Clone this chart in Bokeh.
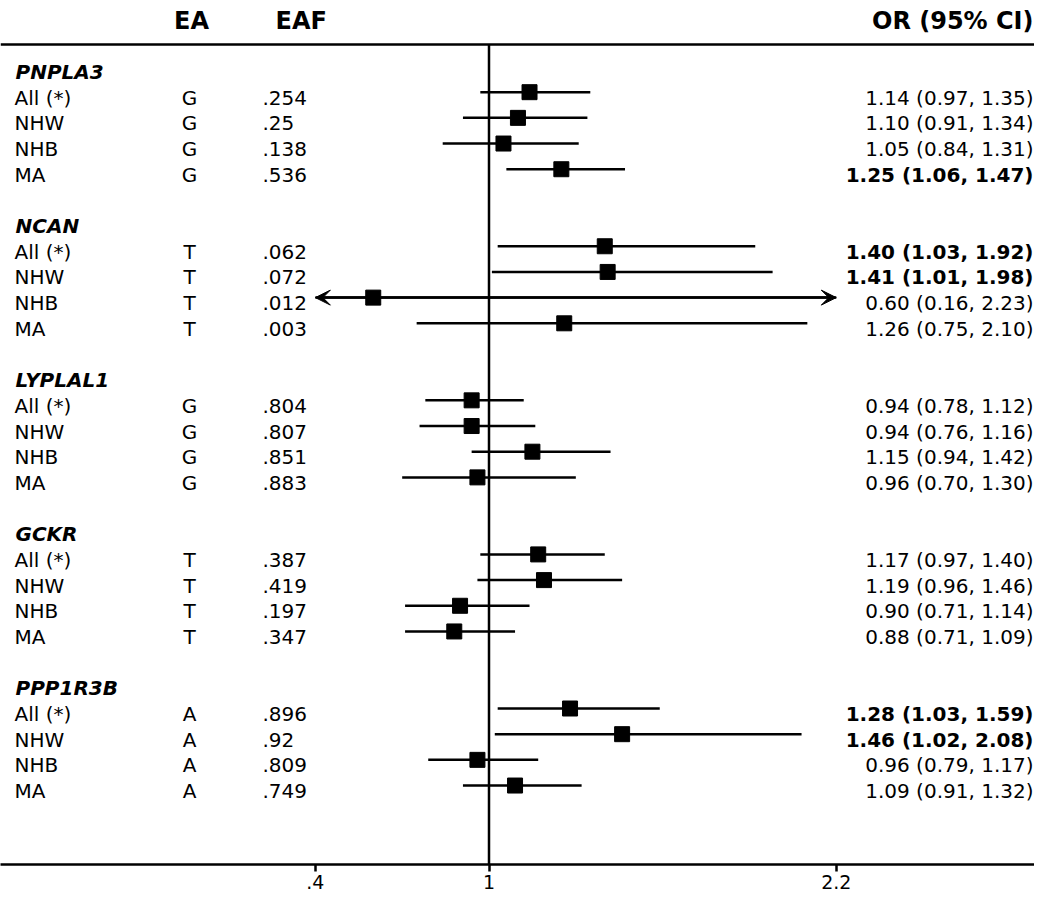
from bokeh.plotting import figure
from bokeh.models import Range1d, Span, Arrow, VeeHead, FixedTicker, ColumnDataSource
from bokeh.core.properties import value
from bokeh.embed import file_html
from bokeh.resources import INLINE

# ---------------- data ----------------
genes = ["PNPLA3", "NCAN", "LYPLAL1", "GCKR", "PPP1R3B"]
gene_effect_allele = ["G", "T", "G", "T", "A"]
populations = ["All (*)", "NHW", "NHB", "MA"]

eaf_pnpla3 = [".254", ".25", ".138", ".536"]
eaf_ncan = [".062", ".072", ".012", ".003"]
eaf_lyplal1 = [".804", ".807", ".851", ".883"]
eaf_gckr = [".387", ".419", ".197", ".347"]
eaf_ppp1r3b = [".896", ".92", ".809", ".749"]

or_pnpla3 = [1.14, 1.10, 1.05, 1.25]
lo_pnpla3 = [0.97, 0.91, 0.84, 1.06]
hi_pnpla3 = [1.35, 1.34, 1.31, 1.47]

or_ncan = [1.40, 1.41, 0.60, 1.26]
lo_ncan = [1.03, 1.01, 0.16, 0.75]
hi_ncan = [1.92, 1.98, 2.23, 2.10]

or_lyplal1 = [0.94, 0.94, 1.15, 0.96]
lo_lyplal1 = [0.78, 0.76, 0.94, 0.70]
hi_lyplal1 = [1.12, 1.16, 1.42, 1.30]

or_gckr = [1.17, 1.19, 0.90, 0.88]
lo_gckr = [0.97, 0.96, 0.71, 0.71]
hi_gckr = [1.40, 1.46, 1.14, 1.09]

or_ppp1r3b = [1.28, 1.46, 0.96, 1.09]
lo_ppp1r3b = [1.03, 1.02, 0.79, 0.91]
hi_ppp1r3b = [1.59, 2.08, 1.17, 1.32]

axis_ticks = [0.4, 1.0, 2.2]
axis_tick_labels = [".4", "1", "2.2"]
header_labels = ["EA", "EAF", "OR (95% CI)"]

eaf_all = [eaf_pnpla3, eaf_ncan, eaf_lyplal1, eaf_gckr, eaf_ppp1r3b]
or_all = [or_pnpla3, or_ncan, or_lyplal1, or_gckr, or_ppp1r3b]
lo_all = [lo_pnpla3, lo_ncan, lo_lyplal1, lo_gckr, lo_ppp1r3b]
hi_all = [hi_pnpla3, hi_ncan, hi_lyplal1, hi_gckr, hi_ppp1r3b]

# ---------------- layout ----------------
W, H = 1034, 900
FRAME_H = 864
X_ONE_PX = 488.5
PX_PER_UNIT = 289.4


def xd(px):
    return 1 + (px - X_ONE_PX) / PX_PER_UNIT


ROW0 = 66.0
ROW_STEP = 25.68
TXT_OFF = 5.5
HEAD_Y = 20
HEAD_LINE_Y = 44

FONT = "DejaVu Sans"
FS = "20px"

p = figure(width=W, height=H, output_backend="svg", toolbar_location=None,
           x_range=Range1d(xd(0), xd(W)), y_range=Range1d(FRAME_H, 0),
           y_axis_location=None, min_border_left=0, min_border_right=0,
           min_border_top=0, min_border_bottom=H - FRAME_H)
p.xgrid.visible = False
p.ygrid.visible = False
p.outline_line_color = None
p.background_fill_color = "white"
p.border_fill_color = "white"

ax = p.xaxis[0]
ax.ticker = FixedTicker(ticks=axis_ticks)
ax.major_label_overrides = {t: l for t, l in zip(axis_ticks, axis_tick_labels)}
ax.axis_line_width = 2.5
ax.axis_line_color = "black"
ax.major_tick_line_width = 2.5
ax.major_tick_line_color = "black"
ax.major_tick_in = 0
ax.major_tick_out = 7
ax.minor_tick_line_color = None
ax.major_label_text_font = FONT
ax.major_label_text_font_size = "19px"
ax.major_label_text_color = "black"
ax.major_label_standoff = 3

clip_lo, clip_hi = axis_ticks[0], axis_ticks[-1]

# rows
head_x, head_y, head_t = [], [], []
lab, ea, eaf_t, ort, style = [], [], [], [], []
ty, ly, est, lo_c, hi_c = [], [], [], [], []
arrows = []
slot = 0
for g, gene in enumerate(genes):
    yl = ROW0 + ROW_STEP * slot
    head_x.append(xd(15))
    head_y.append(yl + TXT_OFF)
    head_t.append(gene)
    slot += 1
    for k, pop in enumerate(populations):
        yl = ROW0 + ROW_STEP * slot
        o, lo, hi = or_all[g][k], lo_all[g][k], hi_all[g][k]
        lab.append(pop)
        ea.append(gene_effect_allele[g])
        eaf_t.append(eaf_all[g][k])
        ort.append(f"{o:.2f} ({lo:.2f}, {hi:.2f})")
        style.append("bold" if (lo > 1 or hi < 1) else "normal")
        ty.append(yl + TXT_OFF)
        ly.append(yl)
        est.append(o)
        lo_c.append(max(lo, clip_lo))
        hi_c.append(min(hi, clip_hi))
        if lo < clip_lo:
            arrows.append((o, clip_lo, yl))
        if hi > clip_hi:
            arrows.append((o, clip_hi, yl))
        slot += 1
    slot += 1

src = ColumnDataSource(dict(lab=lab, ea=ea, eaf=eaf_t, ort=ort, style=style,
                            ty=ty, ly=ly, est=est, lo=lo_c, hi=hi_c))

# header
p.text(x=[xd(191)], y=[HEAD_Y], text=[header_labels[0]], text_font=value(FONT),
       text_font_size="24px", text_font_style="bold", text_align="center",
       text_baseline="middle", text_color="black")
p.text(x=[xd(275)], y=[HEAD_Y], text=[header_labels[1]], text_font=value(FONT),
       text_font_size="24px", text_font_style="bold", text_align="left",
       text_baseline="middle", text_color="black")
p.text(x=[xd(1033)], y=[HEAD_Y], text=[header_labels[2]], text_font=value(FONT),
       text_font_size="24px", text_font_style="bold", text_align="right",
       text_baseline="middle", text_color="black")
p.add_layout(Span(location=HEAD_LINE_Y, dimension="width", line_color="black", line_width=2.5))

# reference line at OR = 1
p.segment(x0=[1.0], y0=[HEAD_LINE_Y], x1=[1.0], y1=[FRAME_H], line_color="black", line_width=2.5)

# gene headings
p.text(x=head_x, y=head_y, text=head_t, text_font=value(FONT), text_font_size=FS,
       text_font_style="bold italic", text_baseline="middle", text_color="black")

# row texts
p.text(x=xd(14), y="ty", text="lab", source=src, text_font=value(FONT), text_font_size=FS,
       text_baseline="middle", text_color="black")
p.text(x=xd(189), y="ty", text="ea", source=src, text_font=value(FONT), text_font_size=FS,
       text_baseline="middle", text_align="center", text_color="black")
p.text(x=xd(262), y="ty", text="eaf", source=src, text_font=value(FONT), text_font_size=FS,
       text_baseline="middle", text_align="left", text_color="black")
p.text(x=xd(1033), y="ty", text="ort", source=src, text_font=value(FONT), text_font_size=FS,
       text_font_style="style", text_baseline="middle", text_align="right", text_color="black")

# CIs and estimates
p.segment(x0="lo", y0="ly", x1="hi", y1="ly", source=src, line_color="black", line_width=2.5)
for o, end, yl in arrows:
    p.add_layout(Arrow(x_start=o, y_start=yl, x_end=end, y_end=yl, line_width=2.5,
                       line_color="black",
                       end=VeeHead(size=15, fill_color="black", line_color="black", line_width=1)))
p.scatter(x="est", y="ly", source=src, marker="square", size=15,
          fill_color="black", line_color="black")

open("out.html", "w").write(file_html(p, INLINE))
